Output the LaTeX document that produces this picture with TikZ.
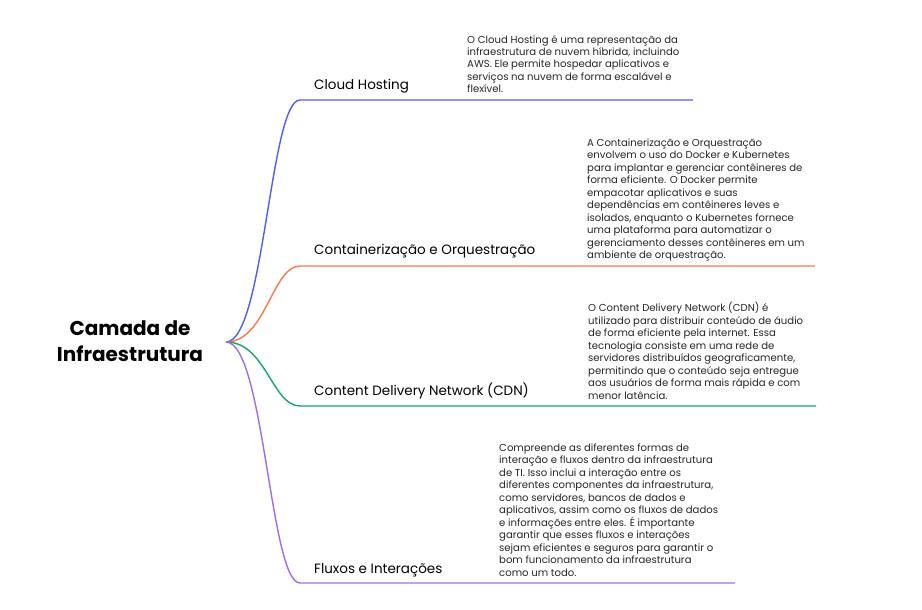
\documentclass[tikz,border=0pt]{standalone}
\usepackage{fontspec}
\setmainfont{Poppins}
\definecolor{cloudblue}{HTML}{4F5EF2}
\definecolor{contorange}{HTML}{F97A48}
\definecolor{cdngreen}{HTML}{17A56C}
\definecolor{fluxpurple}{HTML}{9D6DEE}
\begin{document}
\begin{tikzpicture}[x=1pt,y=-1pt,
  desc/.style={anchor=base west,align=left,inner sep=0pt,text=black!85,
    font=\fontsize{10.1}{12.5}\selectfont},
  topic/.style={anchor=base west,inner sep=0pt,font=\fontsize{13.5}{16}\selectfont},
  branch/.style={line width=1.4pt}]
\useasboundingbox (0,0) rectangle (922,610);
% central topic (base = last line)
\node[anchor=base,align=center,inner sep=0pt,font=\fontsize{20}{26.5}\selectfont\bfseries] (root) at (130,361.5) {Camada de\\Infraestrutura};
\coordinate (hub) at (226,342);
% branch ends
\coordinate (cloud) at (300,100);
\coordinate (cloudend) at (693,100);
\coordinate (cont) at (300,266);
\coordinate (contend) at (815,266);
\coordinate (cdn) at (300,406);
\coordinate (cdnend) at (816,406);
\coordinate (flux) at (300,583);
\coordinate (fluxend) at (735,583);
% connectors
\draw[branch,cloudblue] (hub) .. controls (264,342) and (270,100) .. (cloud) -- (cloudend);
\draw[branch,contorange] (hub) .. controls (266,342) and (272,266) .. (cont) -- (contend);
\draw[branch,cdngreen] (hub) .. controls (266,342) and (272,406) .. (cdn) -- (cdnend);
\draw[branch,fluxpurple] (hub) .. controls (264,342) and (270,583) .. (flux) -- (fluxend);
% topics
\node[topic] (cloudlbl) at (314,89) {Cloud Hosting};
\node[topic] (contlbl) at (314,254) {Containerização e Orquestração};
\node[topic] (cdnlbl) at (314,395) {Content Delivery Network (CDN)};
\node[topic] (fluxlbl) at (314,573) {Fluxos e Interações};
% notes (placed at the baseline of their last line)
\node[desc] (clouddesc) at (467,93) {O Cloud Hosting é uma representação da\\
  infraestrutura de nuvem híbrida, incluindo\\
  AWS. Ele permite hospedar aplicativos e\\
  serviços na nuvem de forma escalável e\\
  flexível.};
\node[desc] (contdesc) at (587,258.5) {A Containerização e Orquestração\\
  envolvem o uso do Docker e Kubernetes\\
  para implantar e gerenciar contêineres de\\
  forma eficiente. O Docker permite\\
  empacotar aplicativos e suas\\
  dependências em contêineres leves e\\
  isolados, enquanto o Kubernetes fornece\\
  uma plataforma para automatizar o\\
  gerenciamento desses contêineres em um\\
  ambiente de orquestração.};
\node[desc] (cdndesc) at (588,399) {O Content Delivery Network (CDN) é\\
  utilizado para distribuir conteúdo de áudio\\
  de forma eficiente pela internet. Essa\\
  tecnologia consiste em uma rede de\\
  servidores distribuídos geograficamente,\\
  permitindo que o conteúdo seja entregue\\
  aos usuários de forma mais rápida e com\\
  menor latência.};
\node[desc] (fluxdesc) at (499,576) {Compreende as diferentes formas de\\
  interação e fluxos dentro da infraestrutura\\
  de TI. Isso inclui a interação entre os\\
  diferentes componentes da infraestrutura,\\
  como servidores, bancos de dados e\\
  aplicativos, assim como os fluxos de dados\\
  e informações entre eles. É importante\\
  garantir que esses fluxos e interações\\
  sejam eficientes e seguros para garantir o\\
  bom funcionamento da infraestrutura\\
  como um todo.};
\end{tikzpicture}
\end{document}
